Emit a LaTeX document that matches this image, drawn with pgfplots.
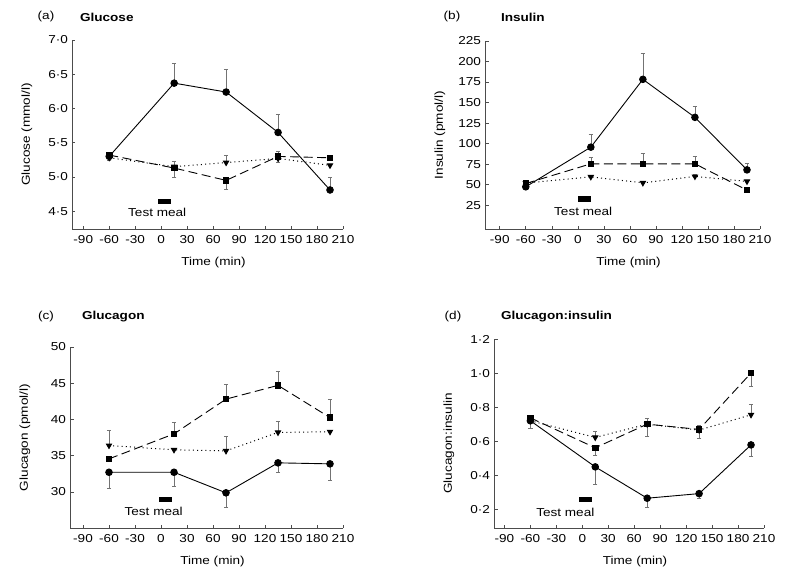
\documentclass[border=0pt]{standalone}
\usepackage{fontspec}
\setmainfont{Liberation Sans}[FakeStretch=1.18]
\usepackage{pgfplots}
\pgfplotsset{compat=1.18}

\pgfplotsset{
  panel/.style={
    scale only axis, anchor=south west, clip=false,
    /pgf/number format/assume math mode=true,
    axis x line*=bottom, axis y line*=left,
    axis line style={black!70, line width=0.6bp},
    tick style={black!70, line width=0.6bp},
    tick align=inside, major tick length=3.5bp,
    xticklabel style={yshift=-2.5bp},
    xmax=210,
    xtick={-90,-60,-30,0,30,60,90,120,150,180,210},
    xticklabels={-90,-60,-30,0,30,60,90,120,150,180,210},
    every axis x label/.style={at={(axis description cs:0.5,0)}, yshift=-34bp, xshift=6bp, anchor=center},
    every axis y label/.style={at={(axis description cs:0,0.5)}, xshift=-45bp, rotate=90, anchor=center},
    xlabel={Time (min)},
  },
  errs/.style={
    error bars/y dir=both, error bars/y explicit,
    error bars/error bar style={black!55, line width=0.5bp, solid},
    error bars/error mark options={black!55, line width=0.5bp, mark size=2.2bp, solid, rotate=90},
  },
  sol/.style={errs, black, line width=0.9bp, mark=*, mark size=3.3bp, mark options={solid, fill=black}},
  das/.style={errs, black, line width=0.9bp, dash pattern=on 9bp off 4.5bp, mark=square*, mark size=2.8bp, mark options={solid, fill=black}},
  dot/.style={errs, black, line width=1bp, dash pattern=on 1bp off 3.2bp, mark=triangle*, mark size=2.9bp, mark options={solid, fill=black, rotate=180}},
}

\begin{document}
\fontsize{11.5bp}{13bp}\selectfont
\begin{tikzpicture}
\path[use as bounding box] (0,0) rectangle (806bp,-573bp);

% (a) Glucose
\node at (46bp,-17bp) {(a)};
\node[anchor=west, font=\bfseries] at (76bp,-17bp) {Glucose};
\begin{axis}[panel, at={(72bp,-229bp)}, width=271bp, height=189bp,
  xmin=-103, ymin=4.24, ymax=7.0,
  ytick={4.5,5.0,5.5,6.0,6.5,7.0},
  yticklabels={4·5,5·0,5·5,6·0,6·5,7·0},
  ylabel={Glucose (mmol/l)}]
\addplot[dot] coordinates {
  (-60,5.28) -= (0,0.03)
  (15,5.15) += (0,0.08)
  (75,5.21) += (0,0.10)
  (135,5.27) -= (0,0.06)
  (195,5.17)
};
\addplot[das] coordinates {
  (-60,5.32)
  (15,5.13) -= (0,0.13)
  (75,4.95) -= (0,0.13)
  (135,5.30) += (0,0.08)
  (195,5.28)
};
\addplot[sol] coordinates {
  (-60,5.30)
  (15,6.37) += (0,0.29)
  (75,6.24) += (0,0.34)
  (135,5.65) += (0,0.26)
  (195,4.81) += (0,0.19)
};
\fill (axis cs:-3.5,4.61) rectangle (axis cs:10.8,4.685);
\node at (axis cs:-4.6,4.48) {Test meal};
\end{axis}

% (b) Insulin
\node at (452bp,-17bp) {(b)};
\node[anchor=west, font=\bfseries] at (497bp,-17bp) {Insulin};
\begin{axis}[panel, at={(485bp,-229bp)}, width=275bp, height=188bp,
  xmin=-107, ymin=-4, ymax=225,
  ytick={25,50,75,100,125,150,175,200,225},
  ylabel={Insulin (pmol/l)}]
\addplot[dot] coordinates {
  (-60,52)
  (15,59.5) += (0,2.5)
  (75,52.2)
  (135,60) += (0,2.5)
  (195,54)
};
\addplot[das] coordinates {
  (-60,51.4)
  (15,75.4) += (0,8.1)
  (75,75.4) += (0,13)
  (135,75.4) += (0,8.9)
  (195,43.4)
};
\addplot[sol] coordinates {
  (-60,47.4)
  (15,95.7) += (0,16.3)
  (75,178.3) += (0,31.2)
  (135,132) += (0,13.7)
  (195,68) += (0,8)
};
\fill (axis cs:0.4,28.7) rectangle (axis cs:15,36);
\node at (axis cs:6.2,18) {Test meal};
\end{axis}

% (c) Glucagon
\node at (46bp,-317bp) {(c)};
\node[anchor=west, font=\bfseries] at (78bp,-317bp) {Glucagon};
\begin{axis}[panel, at={(70bp,-528bp)}, width=273bp, height=181bp,
  xmin=-105, ymin=25, ymax=50,
  ytick={30,35,40,45,50},
  ylabel={Glucagon (pmol/l)}]
\addplot[dot] coordinates {
  (-60,36.4) += (0,2.1)
  (15,35.8)
  (75,35.65) += (0,2.05)
  (135,38.2) += (0,1.6)
  (195,38.3)
};
\addplot[das] coordinates {
  (-60,34.55)
  (15,38.0) += (0,1.66)
  (75,42.8) += (0,2.1)
  (135,44.7) += (0,1.9)
  (195,40.25) += (0,2.55)
};
\addplot[sol] coordinates {
  (-60,32.7) -= (0,2.25)
  (15,32.7) -= (0,1.9)
  (75,29.86) -= (0,1.96)
  (135,34.0) -= (0,1.33)
  (195,33.86) -= (0,2.3)
};
\fill (axis cs:-2.3,28.6) rectangle (axis cs:12.3,29.3);
\node at (axis cs:-8.5,27.3) {Test meal};
\end{axis}

% (d) Glucagon:insulin
\node at (453bp,-317bp) {(d)};
\node[anchor=west, font=\bfseries] at (497bp,-317bp) {Glucagon:insulin};
\begin{axis}[panel, at={(494bp,-528bp)}, width=270bp, height=189bp,
  xmin=-102, ymin=0.09, ymax=1.2,
  ytick={0.2,0.4,0.6,0.8,1.0,1.2},
  yticklabels={0·2,0·4,0·6,0·8,1·0,1·2},
  ylabel={Glucagon:insulin},
  every axis y label/.append style={xshift=-10bp}]
\addplot[dot] coordinates {
  (-60,0.72)
  (15,0.622) += (0,0.038)
  (75,0.70) += (0,0.037)
  (135,0.665) += (0,0.03)
  (195,0.755) += (0,0.061)
};
\addplot[das] coordinates {
  (-60,0.737)
  (15,0.561) -= (0,0.045)
  (75,0.70) -= (0,0.07)
  (135,0.669) -= (0,0.053)
  (195,1.0) -= (0,0.08)
};
\addplot[sol] coordinates {
  (-60,0.72) -= (0,0.045)
  (15,0.449) -= (0,0.104)
  (75,0.265) -= (0,0.053)
  (135,0.292) -= (0,0.027)
  (195,0.578) -= (0,0.064)
};
\fill (axis cs:-3.8,0.241) rectangle (axis cs:11.2,0.273);
\node at (axis cs:-19.6,0.184) {Test meal};
\end{axis}
\end{tikzpicture}
\end{document}
